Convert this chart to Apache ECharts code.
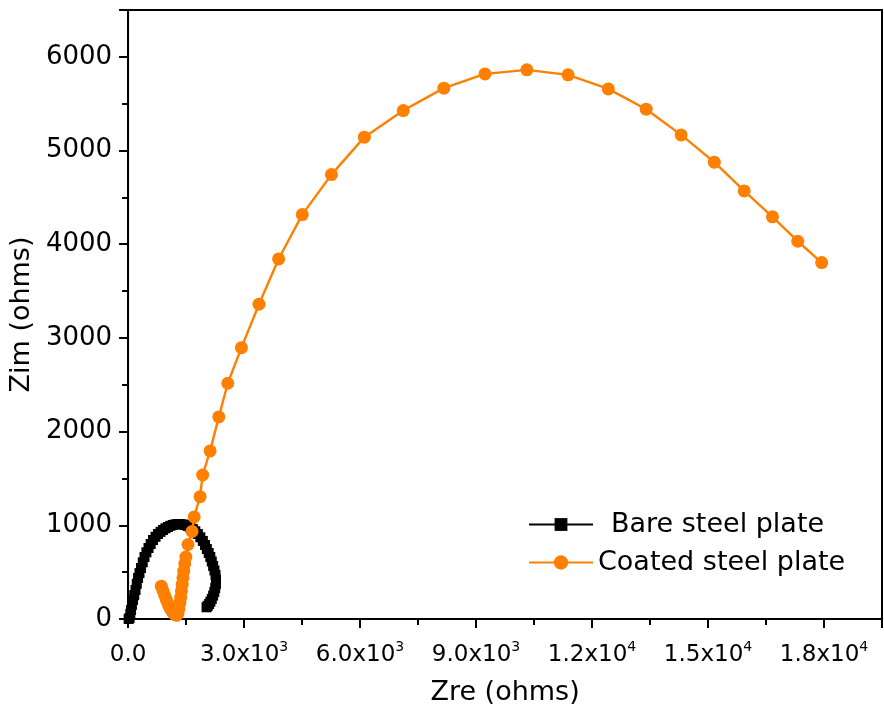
<!DOCTYPE html>
<html>
<head>
<meta charset="utf-8">
<script src="https://cdn.jsdelivr.net/npm/echarts@6/dist/echarts.min.js"></script>
<style>
html,body{margin:0;padding:0;background:#fff;}
#chart{width:884px;height:719px;}
</style>
</head>
<body>
<div id="chart"></div>
<script>
// ---- data ----
const seriesNames = ['Bare steel plate', 'Coated steel plate'];

const bareZre = [15,39,58,77,100,129,160,193,225,258,295,335,380,425,475,529,585,645,710,774,840,903,967,1031,1095,1160,1225,1289,1353,1418,1483,1547,1612,1676,1740,1805,1870,1934,1990,2037,2085,2127,2165,2200,2235,2262,2275,2272,2255,2231,2200,2165,2130,2095,2060,2030];
const bareZim = [0,11,55,96,150,203,255,310,375,438,490,544,605,662,712,758,800,843,877,907,930,950,968,982,995,1004,1010,1014,1013,1009,1002,993,978,961,936,907,872,833,790,747,705,662,614,566,518,470,420,374,330,288,250,214,185,160,140,125];

const coatedZre = [860,905,950,995,1040,1085,1130,1175,1220,1262,1290,1315,1340,1360,1380,1400,1420,1440,1465,1496,1550,1655,1710,1862,1929,2122,2347,2579,2932,3386,3894,4505,5260,6111,7117,8167,9232,10315,11380,12421,13401,14304,15162,15936,16666,17321,17940];
const coatedZim = [350,300,250,200,155,115,85,60,45,40,60,110,170,230,300,370,440,510,590,662,795,935,1090,1306,1537,1794,2157,2516,2896,3360,3843,4316,4743,5143,5427,5666,5818,5861,5808,5658,5441,5167,4876,4569,4292,4032,3804];

const xTicks = [0,3000,6000,9000,12000,15000,18000];
const xTickMantissa = ['0.0','3.0','6.0','9.0','1.2','1.5','1.8'];
const xTickExp = ['','3','3','3','4','4','4'];
const yTicks = [0,1000,2000,3000,4000,5000,6000];
const yTickLabels = ['0','1000','2000','3000','4000','5000','6000'];

const xName = 'Zre (ohms)';
const yName = 'Zim (ohms)';

// ---- chart ----
const FONT = '"DejaVu Sans", "Liberation Sans", Arial, sans-serif';
const zip = (a, b) => a.map((v, i) => [v, b[i]]);

const chart = echarts.init(document.getElementById('chart'));
chart.setOption({
  animation: false,
  backgroundColor: '#fff',
  grid: {left: 127, right: 2, top: 10, bottom: 100, show: true, borderColor: '#000', borderWidth: 2, backgroundColor: 'transparent'},
  legend: [
    {data: [seriesNames[0]], left: 528, top: 511, padding: 0, orient: 'vertical', itemWidth: 64, itemHeight: 16,
     lineStyle: {width: 2},
     textStyle: {fontFamily: FONT, fontSize: 27, color: '#000', padding: [0,0,0,13]}},
    {data: [seriesNames[1]], left: 528, top: 549, padding: 0, orient: 'vertical', itemWidth: 64, itemHeight: 18,
     lineStyle: {width: 2},
     textStyle: {fontFamily: FONT, fontSize: 27, color: '#000'}}
  ],
  xAxis: {
    type: 'value', min: 0, max: 19500, interval: 3000,
    name: xName, nameLocation: 'middle', nameGap: 60,
    nameTextStyle: {fontFamily: FONT, fontSize: 27, color: '#000'},
    axisLine: {show: true, lineStyle: {color: '#000', width: 2}},
    axisTick: {show: true, inside: false, length: 9, lineStyle: {color: '#000', width: 2}},
    minorTick: {show: true, splitNumber: 2, length: 6, lineStyle: {color: '#000', width: 2}},
    splitLine: {show: false},
    axisLabel: {
      margin: 21, showMaxLabel: false, color: '#000', fontFamily: FONT, fontSize: 23,
      formatter: function (v) {
        const i = xTicks.indexOf(v);
        if (i < 0) return '';
        if (!xTickExp[i]) return '{m|' + xTickMantissa[i] + '}';
        return '{m|' + xTickMantissa[i] + 'x10}{s|' + xTickExp[i] + '}';
      },
      rich: {
        m: {fontFamily: FONT, fontSize: 23, color: '#000', verticalAlign: 'bottom', lineHeight: 27},
        s: {fontFamily: FONT, fontSize: 14, color: '#000', verticalAlign: 'top', lineHeight: 27, padding: [0,0,12,0]}
      }
    }
  },
  yAxis: {
    type: 'value', min: 0, max: 6500, interval: 1000,
    name: yName, nameLocation: 'middle', nameGap: 90, nameRotate: 90,
    nameTextStyle: {fontFamily: FONT, fontSize: 27, color: '#000'},
    axisLine: {show: true, lineStyle: {color: '#000', width: 2}},
    axisTick: {show: true, inside: false, length: 9, lineStyle: {color: '#000', width: 2}},
    minorTick: {show: true, splitNumber: 2, length: 6, lineStyle: {color: '#000', width: 2}},
    splitLine: {show: false},
    axisLabel: {
      margin: 16, showMaxLabel: false, color: '#000', fontFamily: FONT, fontSize: 26,
      formatter: function (v) {
        const i = yTicks.indexOf(v);
        return i < 0 ? '' : yTickLabels[i];
      }
    }
  },
  series: [
    {
      name: seriesNames[0], type: 'line', data: zip(bareZre, bareZim),
      symbol: 'rect', symbolSize: 10, showAllSymbol: true,
      itemStyle: {color: '#000'},
      lineStyle: {color: '#000', width: 2}, z: 2
    },
    {
      name: seriesNames[1], type: 'line', data: zip(coatedZre, coatedZim),
      symbol: 'circle', symbolSize: 13, showAllSymbol: true,
      itemStyle: {color: '#ff7f00', borderWidth: 0},
      lineStyle: {color: '#ff7f00', width: 2.4}, z: 3
    }
  ]
});
</script>
</body>
</html>
